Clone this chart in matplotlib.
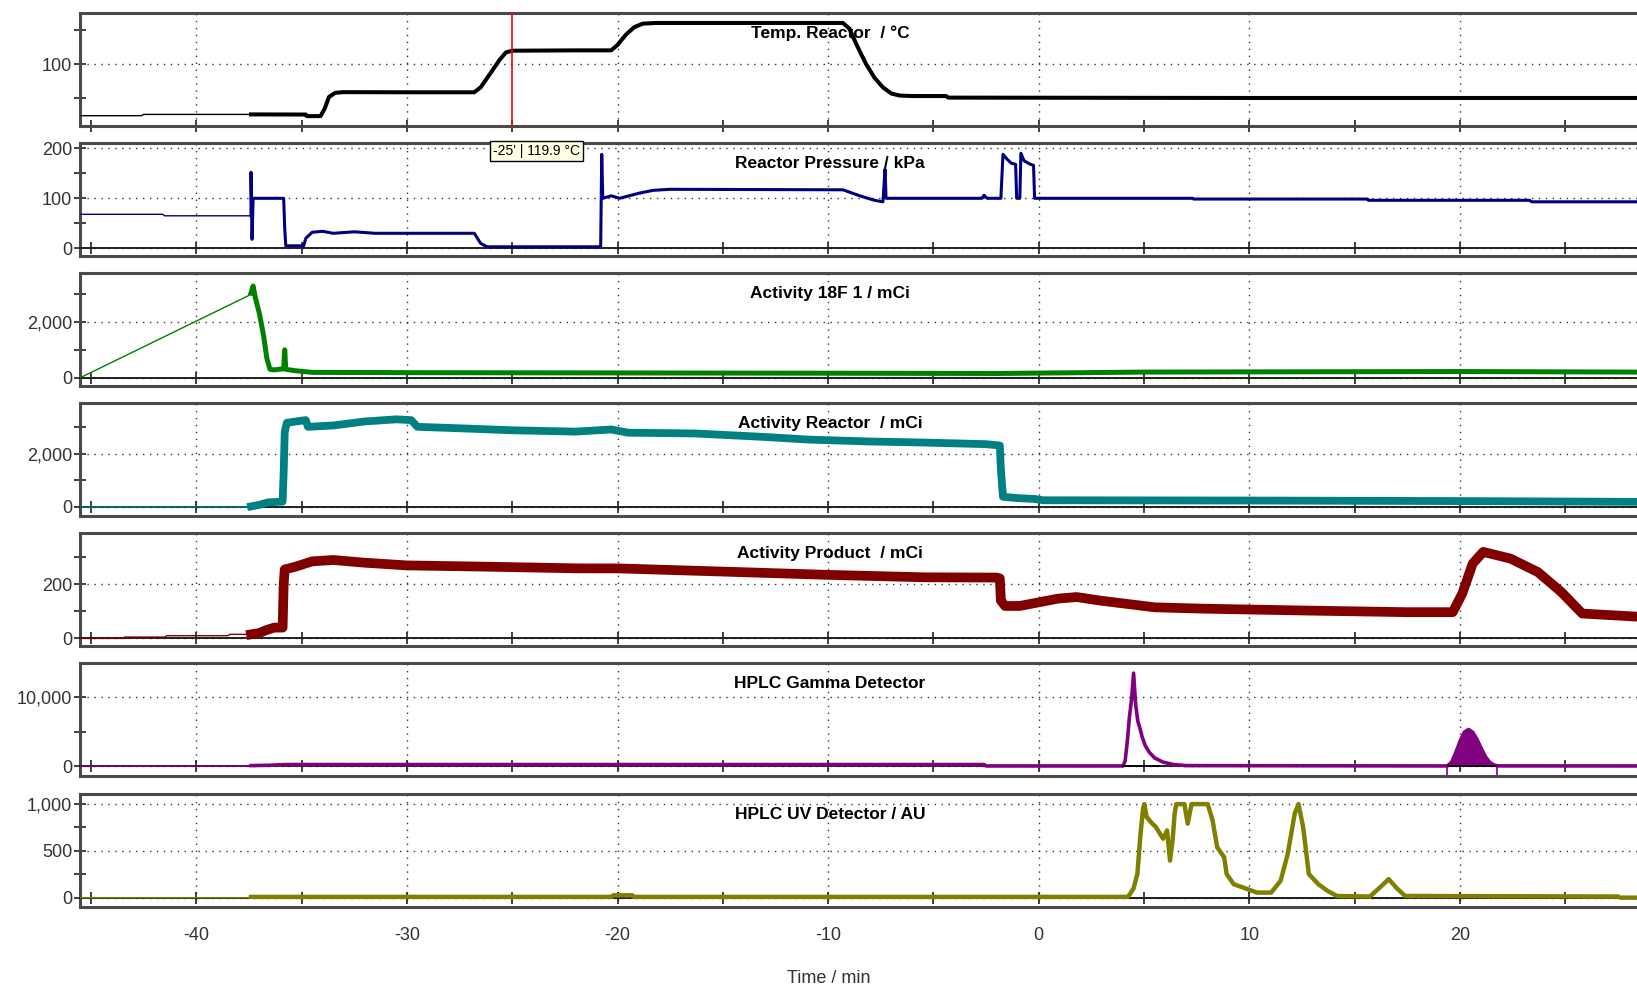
"""
Synthesis run log: 7 stacked detector / sensor traces against time
"""
import numpy as np
import matplotlib
matplotlib.use("Agg")
import matplotlib.pyplot as plt
from matplotlib.ticker import MultipleLocator, StrMethodFormatter

plt.rcParams['font.family'] = ['Liberation Sans', 'DejaVu Sans']
plt.rcParams['axes.unicode_minus'] = False

# ---- data ----
DENSE_START = -37.4   # logging gets dense from here on

temp_t = [-45.5, -42.6, -42.5, -37.4, -34.8, -34.75, -34.1, -33.9, -33.7, -33.4, -33.0, -30.0,
          -26.8, -26.5, -26.0, -25.6, -25.3, -25.0, -22.0, -20.3, -20.0, -19.6, -19.2, -18.8,
          -18.2, -12.0, -9.3, -9.0, -8.6, -8.2, -7.8, -7.4, -7.0, -6.6, -6.0, -4.4, -4.3, 10.0, 28.5]
temp_v = [24.6, 24.6, 26.5, 26.5, 26.3, 24.0, 24.0, 35, 52, 58, 59, 58.8,
          58.8, 66, 88, 106, 117, 119.5, 120, 120, 128, 143, 154, 159,
          160, 160, 160, 152, 125, 100, 80, 66, 57, 54, 53.3, 53.3, 51, 50.5, 50.5]

pres_t = [-45.5, -41.6, -41.5, -37.45, -37.4, -37.4, -37.35, -37.3, -35.85, -35.8, -35.75, -34.9,
          -34.8, -34.5, -34.0, -33.5, -32.5, -31.5, -26.8, -26.5, -26.2, -20.8, -20.75, -20.7,
          -20.3, -19.9, -19.0, -18.3, -17.5, -9.3, -8.5, -7.8, -7.4, -7.3, -7.25, -2.7, -2.6,
          -2.45, -1.8, -1.7, -1.5, -1.3, -1.1, -1.05, -0.9, -0.85, -0.7, -0.4, -0.25, -0.2,
          7.3, 7.35, 15.6, 15.65, 23.3, 23.4, 28.5]
pres_v = [68, 68, 65, 65, 65, 152, 18, 100, 100, 40, 5, 5,
          20, 32, 34, 30, 33, 30, 30, 10, 3, 3, 188, 100,
          105, 100, 110, 116, 118, 117, 105, 96, 93, 158, 100, 100, 106,
          100, 100, 188, 178, 170, 168, 100, 100, 190, 175, 168, 166, 100,
          100, 98.5, 98.5, 96, 96, 93, 93]

f18_t = [-45.5, -37.45, -37.4, -37.3, -37.2, -37.0, -36.8, -36.65, -36.5, -36.3, -35.85, -35.8,
         -35.75, -35.3, -34.5, -30.0, -20.0, -10.0, -2.0, 5.0, 12.0, 20.0, 28.5]
f18_v = [0, 2980, 3050, 3300, 2900, 2300, 1500, 700, 300, 280, 320, 1000,
         300, 250, 190, 180, 170, 160, 150, 200, 210, 220, 200]

reac_t = [-45.5, -37.45, -37.4, -37.0, -36.6, -35.9, -35.85, -35.8, -35.7, -35.0, -34.8, -34.7,
          -33.5, -32.0, -30.5, -29.8, -29.5, -27.0, -25.0, -22.0, -20.3, -19.5, -16.3, -13.0,
          -10.9, -8.0, -5.4, -2.5, -1.85, -1.8, -1.7, -1.0, -0.2, 0.2, 10.0, 20.0, 28.5]
reac_v = [0, 0, 20, 80, 170, 200, 1300, 2800, 3150, 3230, 3250, 3000,
          3050, 3200, 3280, 3250, 3000, 2930, 2870, 2820, 2900, 2780, 2750, 2620,
          2520, 2450, 2410, 2350, 2300, 1400, 380, 330, 300, 250, 240, 220, 190]

prod_t = [-45.5, -43.5, -43.4, -41.5, -41.4, -38.5, -38.4, -37.45, -37.4, -37.0, -36.7, -36.3,
          -35.9, -35.85, -35.8, -35.3, -34.5, -33.5, -32.0, -30.0, -26.0, -21.8, -20.0, -14.5,
          -10.0, -5.4, -2.0, -1.85, -1.8, -1.6, -0.9, 0.9, 1.8, 2.9, 5.5, 7.8, 12.7, 17.5,
          19.65, 20.1, 20.6, 21.1, 22.4, 23.7, 24.8, 25.8, 28.5]
prod_v = [0, 0, 5, 5, 10, 10, 15, 15, 15, 20, 30, 40,
          40, 200, 255, 265, 285, 290, 280, 270, 265, 259, 259, 246,
          235, 226, 225, 222, 140, 120, 120, 147, 153, 140, 115, 110, 103, 97,
          97, 165, 277, 320, 295, 245, 172, 92, 80]

gam_t = [-45.5, -37.45, -37.4, -36.5, -35.8, -2.6, -2.5, 4.0, 4.1, 4.2, 4.3, 4.4, 4.5, 4.6,
         4.7, 4.8, 4.9, 5.05, 5.25, 5.5, 5.9, 6.4, 7.0, 19.3, 19.4, 19.6, 19.8, 20.0, 20.2,
         20.4, 20.6, 20.8, 21.0, 21.2, 21.4, 21.6, 21.8, 28.5]
gam_v = [0, 0, 100, 150, 250, 250, 50, 50, 800, 3500, 7000, 9500, 13400, 8800,
         6500, 5500, 4300, 3000, 2000, 1200, 600, 250, 100, 50, 60, 600, 2000, 3600, 4900,
         5300, 4900, 3900, 2600, 1400, 600, 200, 60, 50]
gam_peaks = [(4.0, 5.7), (19.4, 21.75)]   # integration windows

uv_t = [-45.5, -37.45, -37.4, -20.3, -20.2, -19.3, -19.2, 4.2, 4.27, 4.5, 4.68, 4.83, 4.95,
        5.01, 5.12, 5.35, 5.56, 5.9, 6.09, 6.23, 6.35, 6.45, 6.53, 6.91, 7.07, 7.25, 8.02,
        8.25, 8.47, 8.8, 8.92, 9.25, 9.92, 10.36, 11.03, 11.48, 11.82, 12.15, 12.33, 12.55,
        12.82, 13.27, 13.71, 14.16, 15.72, 16.2, 16.61, 17.0, 17.39, 27.5, 27.6, 28.5]
uv_v = [0, 0, 8, 8, 25, 25, 8, 8, 18, 100, 252, 683, 950,
        1000, 862, 800, 755, 630, 719, 396, 611, 900, 1000, 1000, 791, 1000, 1000,
        827, 539, 431, 252, 144, 90, 54, 54, 180, 468, 899, 1000, 755,
        252, 144, 72, 18, 12, 110, 198, 100, 18, 12, 0, 0]
uv_peaks = [(4.35, 14.25), (15.6, 17.55)]

titles = ["Temp. Reactor  / \u00b0C", "Reactor Pressure / kPa", "Activity 18F 1 / mCi",
          "Activity Reactor  / mCi", "Activity Product  / mCi", "HPLC Gamma Detector",
          "HPLC UV Detector / AU"]
ylims = [(10, 175), (-16, 210), (-290, 3780), (-350, 3880), (-27, 391), (-1440, 14820), (-100, 1108)]
yticks = [(100, 50), (100, 50), (2000, 1000), (2000, 1000), (200, 100), (10000, 5000), (500, 250)]
colors = ['black', '#000080', '#008000', '#008080', '#800000', '#800080', '#808000']
thick = [2.9, 2.2, 3.6, 5.6, 7.0, 2.6, 3.2]
series = [(temp_t, temp_v), (pres_t, pres_v), (f18_t, f18_v), (reac_t, reac_v),
          (prod_t, prod_v), (gam_t, gam_v), (uv_t, uv_v)]

XMIN, XMAX = -45.5, 28.4

# ---- layout in pixels of the 1637x991 picture ----
W, H = 1637, 991
left = 80.4
tops = [12.7, 143.3, 272.7, 403.3, 532.7, 663.3, 794]
ph = 113
frame_col = '#4a4a4a'

fig = plt.figure(figsize=(W / 100, H / 100), dpi=100)
axes = []
for i, top in enumerate(tops):
    ax = fig.add_axes([left / W, 1 - (top + ph) / H, 1 - left / W, ph / H])
    axes.append(ax)
    ax.set_xlim(XMIN, XMAX)
    ax.set_ylim(*ylims[i])

    for s in ['top', 'left']:
        ax.spines[s].set_linewidth(2.2)
        ax.spines[s].set_color(frame_col)
    ax.spines['right'].set_visible(False)
    if ylims[i][0] < 0:
        # x axis drawn at y = 0, frame line below it
        ax.spines['bottom'].set_position(('data', 0))
        ax.spines['bottom'].set_linewidth(1.4)
        ax.spines['bottom'].set_color('#202020')
        ax.plot([0, 1], [0, 0], transform=ax.transAxes, color=frame_col, lw=2.2,
                clip_on=False, zorder=5)
    else:
        ax.spines['bottom'].set_linewidth(2.2)
        ax.spines['bottom'].set_color(frame_col)

    ax.xaxis.set_major_locator(MultipleLocator(10))
    ax.xaxis.set_minor_locator(MultipleLocator(5))
    ax.yaxis.set_major_locator(MultipleLocator(yticks[i][0]))
    ax.yaxis.set_minor_locator(MultipleLocator(yticks[i][1]))
    ax.yaxis.set_major_formatter(StrMethodFormatter('{x:,.0f}'))
    ax.tick_params(which='both', direction='inout', length=8, width=1.2, color='#202020',
                   labelsize=13, labelcolor='#333333')
    ax.tick_params(axis='y', pad=2)
    ax.tick_params(axis='x', labelbottom=(i == len(tops) - 1), pad=17)

    ax.grid(which='major', linestyle=(0, (1, 4)), color='#333333', lw=1)

    t, v = np.asarray(series[i][0]), np.asarray(series[i][1])
    n = int((t < DENSE_START).sum())
    ax.plot(t[:n + 1], v[:n + 1], color=colors[i], lw=1, zorder=3)
    ax.plot(t[n:], v[n:], color=colors[i], lw=thick[i], zorder=3)

    ax.text(0.4816, 0.82, titles[i], transform=ax.transAxes, ha='center', va='center',
            fontsize=12.5, fontweight='bold', color='black', zorder=6)

# cursor on the temperature trace
axes[0].axvline(-25, color='red', lw=1.2, zorder=4)
fig.text(536.5 / W, 1 - 151 / H, "-25' | 119.9 \u00b0C", ha='center', va='center', fontsize=10,
         bbox=dict(boxstyle='square,pad=0.25', fc='#ffffe1', ec='black', lw=1), zorder=10)

# integrated peaks on the gamma detector
ag = axes[5]
gt, gv = np.asarray(gam_t), np.asarray(gam_v)
for a, b in gam_peaks:
    ag.plot([a, b], [0, 0], color='black', lw=1.2, zorder=4)
a, b = gam_peaks[1]
m = (gt >= a - 0.05) & (gt <= b + 0.05)
ag.fill_between(gt[m], 0, gv[m], color=colors[5], lw=0, zorder=3)
for x in gam_peaks[1]:
    ag.plot([x, x], [ylims[5][0], 0], color=colors[5], lw=1.2, zorder=4)

au = axes[6]
for a, b in uv_peaks:
    au.plot([a, b], [0, 0], color='#333333', lw=1.2, zorder=2)

au.set_xlabel('Time / min', fontsize=13, color='#333333')
au.xaxis.set_label_coords(0.4805, -0.56)

fig.savefig('out.png', dpi=100)
